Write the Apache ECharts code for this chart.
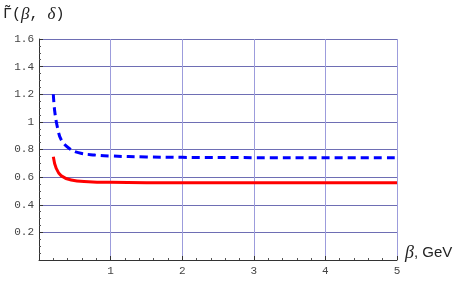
<!DOCTYPE html>
<html>
<head>
<meta charset="utf-8">
<script src="https://cdn.jsdelivr.net/npm/echarts@6/dist/echarts.min.js"></script>
<style>html,body{margin:0;padding:0;background:#fff}#c{width:463px;height:286px}</style>
</head>
<body>
<div id="c"></div>
<script>
var betaBlue = [0.2, 0.22, 0.26, 0.31, 0.41, 0.55, 0.78, 1.0, 1.5, 2, 3, 4, 5];
var blueValues = [1.2, 1.075, 0.954, 0.87, 0.813, 0.777, 0.76, 0.753, 0.746, 0.743, 0.741, 0.74, 0.74];
var betaRed = [0.2, 0.24, 0.31, 0.45, 0.69, 1.0, 1.5, 2, 3, 4, 5];
var redValues = [0.748, 0.664, 0.61, 0.579, 0.567, 0.562, 0.56, 0.56, 0.56, 0.56, 0.56];
var xTicks = [1, 2, 3, 4, 5];
var yTicks = [0.2, 0.4, 0.6, 0.8, 1, 1.2, 1.4, 1.6];

function pairs(xs, ys) { return xs.map(function (x, i) { return [x, ys[i]]; }); }

var chart = echarts.init(document.getElementById('c'));
var mono = '"Liberation Mono", "DejaVu Sans Mono", monospace';
chart.setOption({
  animation: false,
  grid: { left: 39, right: 66, top: 39, bottom: 26, containLabel: false },
  xAxis: {
    type: 'value', min: 0, max: 5, interval: 1,
    axisLine: { lineStyle: { color: '#333', width: 1 } },
    axisTick: { inside: true, length: 4, lineStyle: { color: '#333' } },
    minorTick: { show: true, splitNumber: 5, length: 2, lineStyle: { color: '#555' } },
    axisLabel: { fontFamily: mono, fontSize: 11, color: '#444', margin: 6,
      formatter: function (v) { return xTicks.indexOf(v) >= 0 ? String(v) : ''; } },
    splitLine: { show: true, lineStyle: { color: '#9c9cdc', width: 1 } }
  },
  yAxis: {
    type: 'value', min: 0, max: 1.6, interval: 0.2,
    axisLine: { lineStyle: { color: '#333', width: 1 } },
    axisTick: { inside: true, length: 4, lineStyle: { color: '#333' } },
    minorTick: { show: true, splitNumber: 4, length: 2, lineStyle: { color: '#555' } },
    axisLabel: { fontFamily: mono, fontSize: 11, color: '#444', margin: 5,
      formatter: function (v) {
        var r = Math.round(v * 10) / 10;
        return yTicks.indexOf(r) >= 0 ? String(r) : '';
      } },
    splitLine: { show: true, lineStyle: { color: '#6e6eb4', width: 1 } }
  },
  series: [
    { type: 'line', data: pairs(betaBlue, blueValues), smooth: 0.4, showSymbol: false,
      lineStyle: { color: '#0000ff', width: 3, type: [8, 5] }, z: 3 },
    { type: 'line', data: pairs(betaRed, redValues), smooth: 0.4, showSymbol: false,
      lineStyle: { color: '#ff0000', width: 3 }, z: 3 }
  ],
  graphic: [
    { type: 'text', left: 3, top: 6, style: {
      text: '{a|Γ̃(}{b|β}{a|, }{b|δ}{a|)}',
      rich: {
        a: { fontFamily: mono, fontSize: 15, fill: '#222' },
        b: { fontFamily: '"Liberation Serif", serif', fontStyle: 'italic', fontSize: 17, fill: '#222' }
      } } },
    { type: 'text', left: 405, top: 244, style: {
      text: '{b|β}{a|, GeV}',
      rich: {
        a: { fontFamily: '"Liberation Sans", sans-serif', fontSize: 15, fill: '#222' },
        b: { fontFamily: '"Liberation Serif", serif', fontStyle: 'italic', fontSize: 18, fill: '#222' }
      } } }
  ]
});
</script>
</body>
</html>
